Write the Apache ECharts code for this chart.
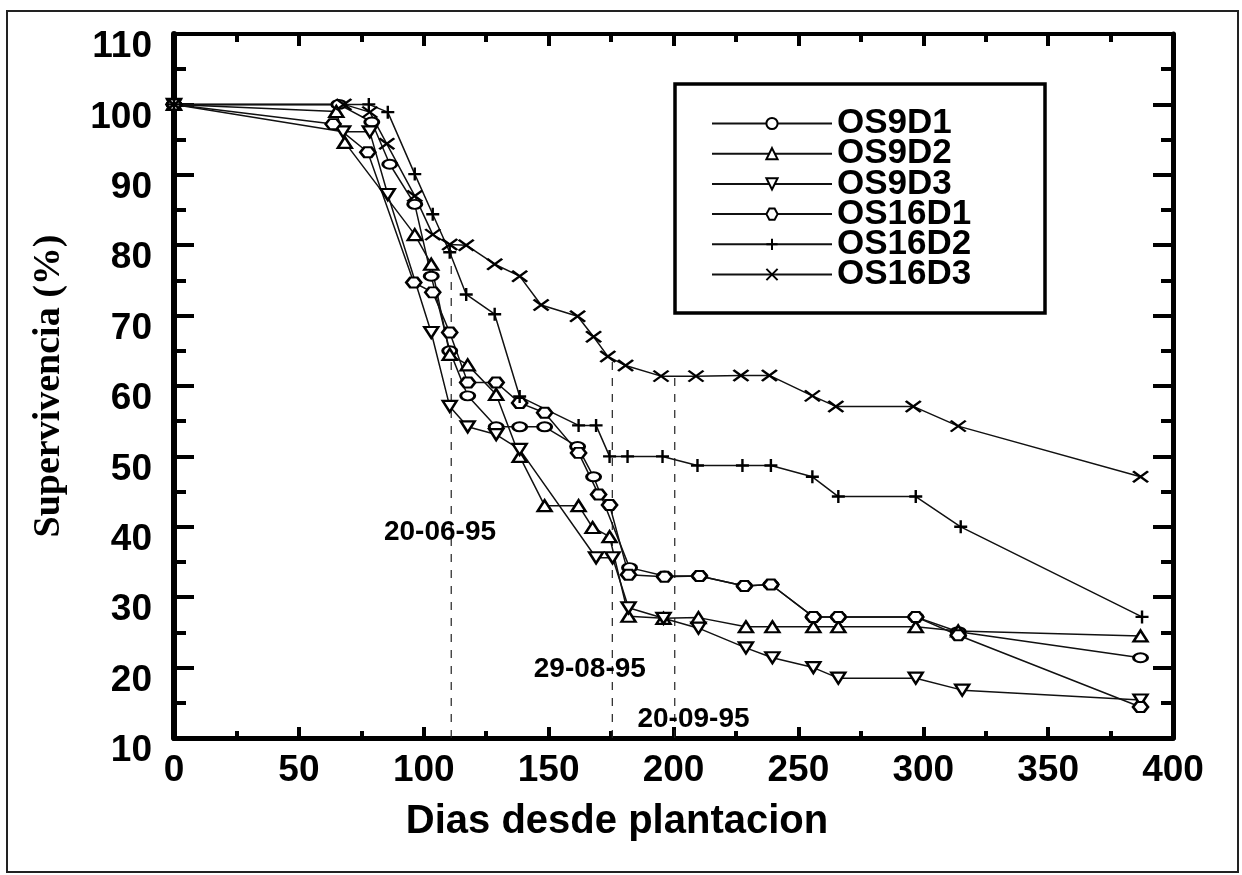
<!DOCTYPE html>
<html><head><meta charset="utf-8">
<script src="https://cdn.jsdelivr.net/npm/echarts@6/dist/echarts.min.js"></script>
<style>html,body{margin:0;padding:0;background:#fff}#c{width:1242px;height:875px}</style>
</head><body><div id="c"></div>
<script>
const seriesNames = ['OS9D1','OS9D2','OS9D3','OS16D1','OS16D2','OS16D3'];
const os9d1 = [[0,100],[66,100],[79.2,97.5],[86.4,91.5],[96.4,85.8],[103,75.6],[110.4,65],[117.6,58.6],[129,54.2],[138.4,54.2],[148.4,54.2],[161.6,51.4],[168,47.1],[182.4,34.2],[196.4,33],[210.4,33],[228.4,31.6],[239,31.8],[256,27.2],[266,27.2],[297,27.2],[314,25.1],[387,21.4]];
const os9d2 = [[0,100],[65,99],[68.4,94.6],[96.4,81.5],[103,77.3],[110.4,64.5],[117.6,63],[129,58.8],[138.4,50],[148.4,43],[162,43],[167.6,39.9],[174.4,38.6],[182,27.3],[196,27],[210,27.1],[229,25.8],[239.6,25.8],[256,25.8],[266,25.8],[297,25.8],[314,25.2],[387,24.5]];
const os9d3 = [[0,100],[67.7,96.1],[78.4,96.1],[85.6,87.2],[103,67.6],[110.4,57.1],[117.6,54.2],[129,53.1],[138.4,51],[169,35.6],[175.6,35.6],[182,28.5],[196,27],[210,25.6],[229,22.8],[239.6,21.4],[256,20],[266,18.5],[297,18.5],[315.6,16.8],[387,15.4]];
const os16d1 = [[0,100],[63.7,97.2],[77.6,93.2],[96,74.7],[103.6,73.3],[110.4,67.6],[117.6,60.5],[129,60.5],[138.4,57.6],[148.4,56.2],[162,50.5],[170,44.6],[174.4,43.1],[182,33.2],[196.4,32.9],[210.4,33],[228.4,31.6],[239,31.8],[256,27.2],[266,27.2],[297,27.2],[314,24.6],[387,14.4]];
const os16d2 = [[0,100],[78,100],[85.6,98.9],[96.4,90.1],[103.6,84.4],[110.4,79],[117,73],[128.4,70.2],[138.4,58.5],[162,54.4],[169,54.4],[174.4,50],[181.6,50],[195.6,50],[209.6,48.7],[227.6,48.7],[239,48.7],[255.6,47.1],[266,44.3],[297,44.3],[315,40],[387.6,27.2]];
const os16d3 = [[0,100],[68,100],[78.4,98.9],[85.2,94.4],[96.4,87],[103.6,81.5],[110.4,80.1],[117,80],[128.4,77.3],[138.4,75.6],[147,71.5],[161.6,69.9],[168,67],[173.7,64.2],[180.8,62.9],[195,61.4],[209,61.4],[227,61.5],[238.4,61.5],[255.6,58.6],[265,57.1],[296,57.1],[314,54.3],[387,47.1]];
const xTickLabels = [0,50,100,150,200,250,300,350,400];
const yTickLabels = [10,20,30,40,50,60,70,80,90,100,110];
const dateLabels = ['20-06-95','29-08-95','20-09-95'];
const dateLineDays = [111,175.5,200.5];
const dateLineTops = [80,64,61.4];
const dateLabelX = [106.5,166.5,208];
const dateLabelY = [39.2,19.7,12.6];

const FONT = '"Liberation Sans", Arial, sans-serif';
const sym = {
  ellipse: 'path://M0,5 A7,5 0 1,1 14,5 A7,5 0 1,1 0,5 Z',
  up: 'path://M7,0 L14,11 L0,11 Z',
  down: 'path://M0,0 L14,0 L7,11 Z',
  hex: 'path://M0,5 L4,0 L11,0 L15,5 L11,10 L4,10 Z',
  plus: 'path://M7,0 L7,14 M0,7 L14,7',
  cross: 'path://M0,0 L14,10 M0,10 L14,0'
};
const seriesData = [os9d1, os9d2, os9d3, os16d1, os16d2, os16d3];
const seriesSym = [sym.ellipse, sym.up, sym.down, sym.hex, sym.plus, sym.cross];
const seriesSymSize = [[14,9],[14,11],[14,11],[15,10],[13,13],[15,11]];

const series = seriesData.map((d,i) => ({
  name: seriesNames[i], type:'line', data:d,
  symbol: seriesSym[i], symbolSize: seriesSymSize[i], symbolKeepAspect:false,
  showAllSymbol:true,
  lineStyle:{color:'#111', width:1.5},
  itemStyle:{color: i>=4 ? '#000' : '#fff', borderColor:'#000', borderWidth:2.4},
  emphasis:{disabled:true}, z:3
}));
dateLineDays.forEach((d,i) => {
  series.push({type:'line', data:[[d,10],[d,dateLineTops[i]]], symbol:'none',
    lineStyle:{color:'#222', width:1.2, type:[8,8]}, silent:true, z:2});
});
series.push({type:'scatter', symbolSize:0, silent:true, itemStyle:{opacity:1},
  data: dateLabels.map((t,i)=>({name:t, value:[dateLabelX[i], dateLabelY[i]]})),
  label:{show:true, position:'inside', formatter:p=>p.name, fontSize:28, fontWeight:'bold', color:'#000', opacity:1, fontFamily:FONT}, z:4});

const axisCommon = {type:'value', splitLine:{show:false}, minorSplitLine:{show:false}};
const option = {
  animation:false,
  backgroundColor:'#fff',
  grid:{left:174, right:69, top:34, bottom:137, containLabel:false, outerBoundsMode:'none'},
  legend:{
    data: seriesNames, orient:'vertical', left:711, top:106, padding:0,
    itemWidth:120, itemHeight:14, itemGap:-4.8,
    textStyle:{fontSize:35, fontWeight:'bold', fontFamily:FONT, color:'#000'},
    selectedMode:false
  },
  xAxis:[
    Object.assign({}, axisCommon, {position:'bottom', min:0, max:400, interval:50,
      axisLine:{onZero:false, lineStyle:{color:'#000', width:5}},
      axisTick:{inside:true, length:11, lineStyle:{color:'#000', width:4}},
      minorTick:{show:true, splitNumber:2, length:7, lineStyle:{color:'#000', width:4}},
      axisLabel:{fontSize:37, fontWeight:'bold', color:'#000', fontFamily:FONT, margin:14}}),
    Object.assign({}, axisCommon, {position:'top', min:0, max:400, interval:50,
      axisLine:{onZero:false, lineStyle:{color:'#000', width:4}},
      axisTick:{inside:true, length:12, lineStyle:{color:'#000', width:4}},
      minorTick:{show:true, splitNumber:2, length:8, lineStyle:{color:'#000', width:4}},
      axisLabel:{show:false}})
  ],
  yAxis:[
    Object.assign({}, axisCommon, {position:'left', min:10, max:110, interval:10,
      axisLine:{onZero:false, lineStyle:{color:'#000', width:6}},
      axisTick:{inside:true, length:20, lineStyle:{color:'#000', width:4}},
      minorTick:{show:true, splitNumber:2, length:12, lineStyle:{color:'#000', width:4}},
      axisLabel:{fontSize:37, fontWeight:'bold', color:'#000', fontFamily:FONT, margin:22, verticalAlign:'top', lineHeight:26},
      name:'Supervivencia (%)', nameLocation:'middle', nameGap:106, nameRotate:90,
      nameTextStyle:{fontSize:38, fontWeight:'bold', fontFamily:'"Liberation Serif", "Times New Roman", serif', color:'#000'}}),
    Object.assign({}, axisCommon, {position:'right', min:10, max:110, interval:10,
      axisLine:{onZero:false, lineStyle:{color:'#000', width:5}},
      axisTick:{inside:true, length:20, lineStyle:{color:'#000', width:4}},
      minorTick:{show:true, splitNumber:2, length:12, lineStyle:{color:'#000', width:4}},
      axisLabel:{show:false}})
  ],
  graphic:[
    {type:'rect', shape:{x:7, y:11, width:1231, height:861}, style:{fill:null, stroke:'#222', lineWidth:2}, silent:true, z:-1},
    {type:'rect', shape:{x:675, y:84, width:370, height:229}, style:{fill:'#fff', stroke:'#000', lineWidth:3.5}, silent:true, z:0},
    {type:'text', x:617, y:822, style:{text:'Dias desde plantacion', fontSize:40, fontWeight:'bold', fontFamily:FONT, fill:'#000', align:'center', verticalAlign:'middle'}, silent:true}
  ],
  series: series
};
const chart = echarts.init(document.getElementById('c'), null, {renderer:'canvas'});
chart.setOption(option);
</script></body></html>
